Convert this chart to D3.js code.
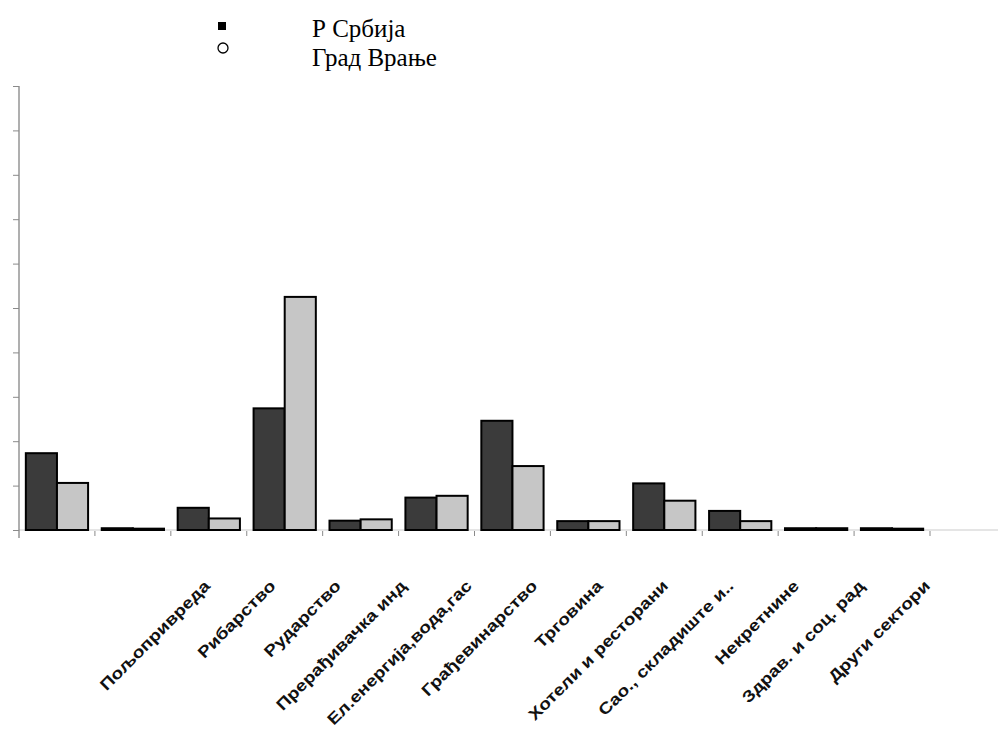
<!DOCTYPE html>
<html>
<head>
<meta charset="utf-8">
<script src="https://cdn.jsdelivr.net/npm/d3@7"></script>
<style>
  html, body { margin: 0; padding: 0; background: #fff; }
  svg { display: block; }
</style>
</head>
<body>
<svg id="chart" width="998" height="733"></svg>
<script>
// ---- data ----
const categories = [
  "Пољопривреда", "Рибарство", "Рударство", "Прерађивачка инд",
  "Ел.енергија,вода,гас", "Грађевинарство", "Трговина", "Хотели и ресторани",
  "Сао., складиште и..", "Некретнине", "Здрав. и соц. рад", "Други сектори"
];
const seriesNames = ["Р Србија", "Град Врање"];
const serbiaValues = [1.73, 0.04, 0.50, 2.74, 0.21, 0.73, 2.46, 0.20, 1.05, 0.43, 0.04, 0.04];
const vranjeValues = [1.06, 0.03, 0.26, 5.25, 0.24, 0.77, 1.44, 0.20, 0.66, 0.20, 0.04, 0.03];
const yTicks = [0, 1, 2, 3, 4, 5, 6, 7, 8, 9, 10];

// ---- layout ----
const svg = d3.select("#chart");
const plot = { left: 19, right: 930, top: 86, bottom: 530 };
const colors = ["#3b3b3b", "#c6c6c6"];

const x = d3.scaleBand().domain(categories)
  .range([plot.left, plot.right]).paddingInner(0.18).paddingOuter(0.09);
const xSub = d3.scaleBand().domain([0, 1]).range([0, x.bandwidth()]);
const y = d3.scaleLinear().domain([0, 10]).range([plot.bottom, plot.top]);

// label positions (labels in the reference are offset from the bars)
const xLabel = d3.scalePoint().domain(categories).range([211, 931]);

// baseline
svg.append("line")
  .attr("x1", plot.left).attr("x2", 998)
  .attr("y1", plot.bottom).attr("y2", plot.bottom)
  .attr("stroke", "#dcdcdc").attr("stroke-width", 1.5);

// x slot ticks
const slotEdges = categories.map(c => x(c) - x.step() * 0.09).concat([plot.right]);
svg.selectAll(".xtick").data(slotEdges.slice(1)).join("line")
  .attr("class", "xtick")
  .attr("x1", d => d).attr("x2", d => d)
  .attr("y1", plot.bottom + 1).attr("y2", plot.bottom + 6)
  .attr("stroke", "#8a8a8a").attr("stroke-width", 1);

// y axis
const yAxis = d3.axisLeft(y).tickValues(yTicks).tickSize(6).tickFormat("");
const yg = svg.append("g").attr("transform", `translate(${plot.left},0)`).call(yAxis);
yg.select(".domain").attr("stroke", "#7a7a7a").attr("stroke-width", 1.2)
  .attr("d", `M0,${plot.top}V${plot.bottom + 8}`);
yg.selectAll(".tick line").attr("stroke", "#8a8a8a");

// bars
const groups = svg.selectAll(".grp").data(categories).join("g")
  .attr("class", "grp")
  .attr("transform", d => `translate(${x(d)},0)`);
const allSeries = [serbiaValues, vranjeValues];
groups.selectAll("rect").data((d, i) => allSeries.map((s, k) => ({ k, v: s[i] })))
  .join("rect")
  .attr("x", d => xSub(d.k))
  .attr("width", xSub.bandwidth())
  .attr("y", d => y(d.v))
  .attr("height", d => y(0) - y(d.v))
  .attr("fill", d => colors[d.k])
  .attr("stroke", "#000")
  .attr("stroke-width", 2);

// x labels (rotated)
svg.selectAll(".xlab").data(categories).join("g")
  .attr("class", "xlab")
  .attr("transform", d => `translate(${xLabel(d)},587) rotate(-45)`)
  .append("text")
  .attr("transform", "scale(1.2,1)")
  .attr("text-anchor", "end")
  .attr("font-family", "Liberation Sans, Arial, sans-serif")
  .attr("font-weight", "bold")
  .attr("font-size", 16)
  .attr("fill", "#111")
  .text(d => d);

// legend
const legend = svg.append("g");
legend.append("rect").attr("x", 218).attr("y", 22).attr("width", 8).attr("height", 8).attr("fill", "#000");
legend.append("circle").attr("cx", 223).attr("cy", 48).attr("r", 5)
  .attr("fill", "none").attr("stroke", "#000").attr("stroke-width", 1.3);
legend.selectAll(".ltxt").data(seriesNames).join("text")
  .attr("class", "ltxt")
  .attr("x", 312).attr("y", (d, i) => 37 + i * 29)
  .attr("font-family", "Liberation Serif, Times New Roman, serif")
  .attr("font-size", 25)
  .attr("fill", "#000")
  .text(d => d);
</script>
</body>
</html>
